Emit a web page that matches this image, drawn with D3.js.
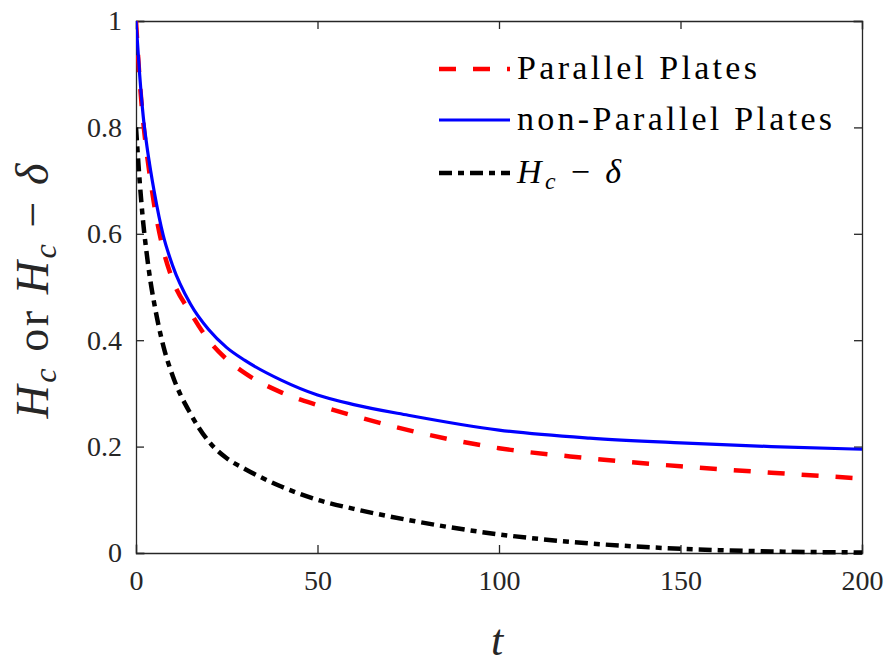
<!DOCTYPE html>
<html>
<head>
<meta charset="utf-8">
<script src="https://cdn.jsdelivr.net/npm/d3@7"></script>
<style>
  html, body { margin: 0; padding: 0; background: #fff; }
  svg { display: block; }
  svg text { font-family: 'Liberation Serif', 'DejaVu Serif', 'Times New Roman', serif; }
  .axis path, .axis line { stroke: #262626; stroke-width: 1.3; }
  .axis text { fill: #262626; }
</style>
</head>
<body>
<svg id="chart" width="888" height="668"></svg>
<script>
// Time samples shared by all three curves
const tValues = [0, 1, 2, 3, 4, 5, 7.5, 10, 15, 20, 25, 30, 40, 50, 60, 75, 100, 125, 150, 175, 200];

// Centre height for parallel plates
const parallelPlates = [1.0, 0.89, 0.81, 0.75, 0.70, 0.655, 0.57, 0.515, 0.452, 0.400, 0.364, 0.338, 0.302, 0.278, 0.258, 0.231, 0.197, 0.178, 0.163, 0.151, 0.140];

// Centre height for non-parallel plates
const nonParallelPlates = [1.0, 0.90, 0.82, 0.765, 0.72, 0.68, 0.597, 0.542, 0.468, 0.420, 0.386, 0.362, 0.325, 0.297, 0.279, 0.259, 0.231, 0.216, 0.207, 0.200, 0.195];

// Centre height minus the plate offset delta
const hcMinusDelta = [0.80, 0.70, 0.62, 0.56, 0.51, 0.47, 0.39, 0.335, 0.262, 0.210, 0.178, 0.158, 0.125, 0.100, 0.083, 0.062, 0.035, 0.018, 0.008, 0.003, 0.001];

const xTicks = [0, 50, 100, 150, 200];
const yTicks = [0, 0.2, 0.4, 0.6, 0.8, 1];

const legendLabels = ["Parallel Plates", "non-Parallel Plates"];

const svg = d3.select("#chart");
const margin = { left: 136, right: 26, top: 21, bottom: 115 };
const W = 888, H = 668;
const innerW = W - margin.left - margin.right;
const innerH = H - margin.top - margin.bottom;

const x = d3.scaleLinear().domain([0, 200]).range([margin.left, margin.left + innerW]);
const y = d3.scaleLinear().domain([0, 1]).range([margin.top + innerH, margin.top]);

const tickFont = 28;

// Bottom axis with labels
const gx = svg.append("g").attr("class", "axis")
  .attr("transform", `translate(0,${y(0)})`)
  .call(d3.axisBottom(x).tickValues(xTicks).tickSize(-8).tickPadding(17).tickFormat(d3.format("~g")));
gx.selectAll("text").attr("font-size", tickFont);

// Left axis with labels
const gy = svg.append("g").attr("class", "axis")
  .attr("transform", `translate(${x(0)},0)`)
  .call(d3.axisLeft(y).tickValues(yTicks).tickSize(-8).tickPadding(14).tickFormat(d3.format("~g")));
gy.selectAll("text").attr("font-size", tickFont);

// Top and right box edges with inward ticks
svg.append("g").attr("class", "axis")
  .attr("transform", `translate(0,${y(1)})`)
  .call(d3.axisTop(x).tickValues(xTicks).tickSize(-8).tickFormat(""));
svg.append("g").attr("class", "axis")
  .attr("transform", `translate(${x(200)},0)`)
  .call(d3.axisRight(y).tickValues(yTicks).tickSize(-8).tickFormat(""));

svg.selectAll(".axis .domain").attr("stroke-linecap", "square");

// Clip curves to the plot box
svg.append("clipPath").attr("id", "plotClip")
  .append("rect")
  .attr("x", x(0)).attr("y", y(1) - 2)
  .attr("width", x(200) - x(0)).attr("height", y(0) - y(1) + 4);

const lineGen = vals => d3.line()
  .x((d, i) => x(tValues[i]))
  .y(d => y(d))
  .curve(d3.curveMonotoneX)(vals);

const blackDash = "13,6,6,6";
const redDash = "17,17";

const series = [
  { vals: hcMinusDelta, color: "#000000", width: 4.5, dash: blackDash },
  { vals: parallelPlates, color: "#ff0000", width: 4.5, dash: redDash },
  { vals: nonParallelPlates, color: "#0000ff", width: 3.2, dash: null }
];

const plot = svg.append("g").attr("clip-path", "url(#plotClip)");
series.forEach(s => {
  plot.append("path")
    .attr("d", lineGen(s.vals))
    .attr("fill", "none")
    .attr("stroke", s.color)
    .attr("stroke-width", s.width)
    .attr("stroke-dasharray", s.dash)
    .attr("stroke-linejoin", "round");
});

// Legend
const legendX = 439, legendLineLen = 71, legendTextX = 517;
const legendRows = [
  { y: 69, color: "#ff0000", width: 4.5, dash: redDash, len: 240 },
  { y: 120, color: "#0000ff", width: 3.2, dash: null, len: 315 },
  { y: 173, color: "#000000", width: 4.5, dash: blackDash, len: 104 }
];
const legendFont = 34;
const lg = svg.append("g").attr("fill", "#000");
legendRows.forEach((r, i) => {
  lg.append("line")
    .attr("x1", legendX).attr("x2", legendX + legendLineLen)
    .attr("y1", r.y).attr("y2", r.y)
    .attr("stroke", r.color).attr("stroke-width", r.width)
    .attr("stroke-dasharray", r.dash);
  const t = lg.append("text").attr("x", legendTextX).attr("y", r.y + 10)
    .attr("font-size", legendFont)
    .attr("textLength", r.len).attr("lengthAdjust", "spacing");
  if (i < 2) {
    t.text(legendLabels[i]);
  } else {
    t.append("tspan").attr("font-style", "italic").text("H");
    t.append("tspan").attr("font-style", "italic").attr("font-size", legendFont * 0.7).attr("dy", 6).text("c");
    t.append("tspan").attr("dy", -6).text(" \u2212 ");
    t.append("tspan").attr("font-style", "italic").text("\u03B4");
  }
});

// X axis title
svg.append("text")
  .attr("x", x(100) - 2).attr("y", 655)
  .attr("text-anchor", "middle")
  .attr("font-style", "italic").attr("font-size", 44).attr("fill", "#262626")
  .text("t");

// Y axis title
const yFont = 46;
const yt = svg.append("text")
  .attr("transform", "translate(48,291) rotate(-90)")
  .attr("text-anchor", "middle")
  .attr("font-size", yFont).attr("fill", "#262626")
  .attr("textLength", 255).attr("lengthAdjust", "spacing");
yt.append("tspan").attr("font-style", "italic").text("H");
yt.append("tspan").attr("font-style", "italic").attr("font-size", yFont * 0.7).attr("dy", 8).text("c");
yt.append("tspan").attr("dy", -8).text(" or ");
yt.append("tspan").attr("font-style", "italic").text("H");
yt.append("tspan").attr("font-style", "italic").attr("font-size", yFont * 0.7).attr("dy", 8).text("c");
yt.append("tspan").attr("dy", -8).text(" \u2212 ");
yt.append("tspan").attr("font-style", "italic").text("\u03B4");
</script>
</body>
</html>
